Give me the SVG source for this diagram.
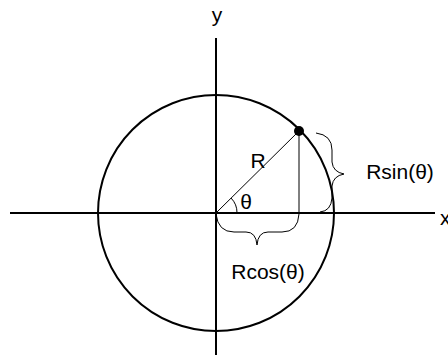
<svg xmlns="http://www.w3.org/2000/svg" width="448" height="361" viewBox="0 0 448 361">
<style>
.ax{stroke:#000;stroke-width:2;fill:none}
.thin{stroke:#000;stroke-width:1;fill:none}
.t{font-family:"Liberation Sans",Arial,sans-serif;font-size:21px;fill:#000}
</style>
<rect width="448" height="361" fill="#fff"/>
<g id="axes">
<line class="ax" x1="10" y1="213" x2="435" y2="213"/>
<line class="ax" x1="216" y1="38" x2="216" y2="355"/>
</g>
<g id="circle"><circle class="ax" cx="216" cy="213" r="118"/></g>
<g id="connectors">
<line class="thin" x1="216" y1="213" x2="299" y2="131"/>
<line class="thin" x1="299" y1="131" x2="299" y2="213"/>
<path class="thin" d="M237,213 A21,21 0 0 0 231,198"/>
<path class="thin" d="M216,214 Q218,232 234,232 L246,232 Q256,232 257,245 Q258,232 268,232 L282,232 Q298,232 299,214"/>
<path class="thin" d="M316,133 Q332,135 332,150 L332,162 Q333,172 344,174 Q333,176 332,186 L332,198 Q331,211 320,212"/>
</g>
<g id="point"><circle cx="299" cy="131" r="5" fill="#000"/></g>
<g id="labels">
<text class="t" x="217" y="22" text-anchor="middle">y</text>
<text class="t" x="440" y="225">x</text>
<text class="t" x="258" y="168" text-anchor="middle">R</text>
<text class="t" x="246" y="209" text-anchor="middle">θ</text>
<text class="t" x="268" y="279" text-anchor="middle">Rcos(θ)</text>
<text class="t" x="400" y="179" text-anchor="middle">Rsin(θ)</text>
</g>
</svg>
